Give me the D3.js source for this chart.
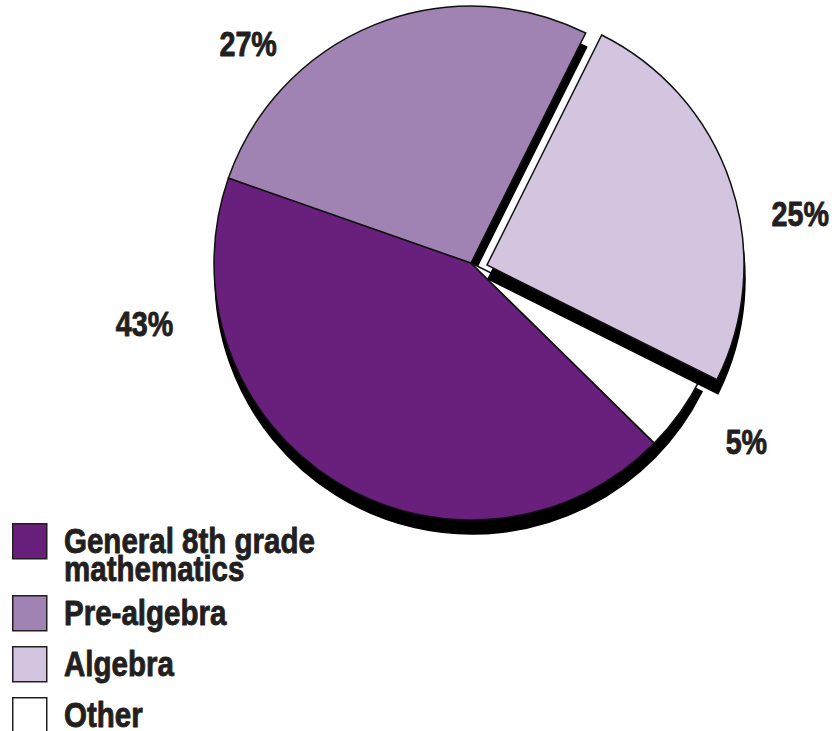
<!DOCTYPE html>
<html>
<head>
<meta charset="utf-8">
<script src="https://cdn.jsdelivr.net/npm/d3@7/dist/d3.min.js"></script>
<style>
  html, body { margin: 0; padding: 0; background: #fff; }
  svg { display: block; }
  text { font-family: "Liberation Sans", Arial, sans-serif; font-weight: bold; fill: #231f20; stroke: #231f20; stroke-width: 0.9; stroke-linejoin: round; }
</style>
</head>
<body>
<svg id="chart" width="832" height="731"></svg>
<script>
// Share of 8th-grade students by mathematics course
const categories = ["General 8th grade mathematics", "Pre-algebra", "Algebra", "Other"];
const legendLines = [["General 8th grade", "mathematics"], ["Pre-algebra"], ["Algebra"], ["Other"]];
const shares = [43, 27, 25, 5];
const valueLabels = ["43%", "27%", "25%", "5%"];
const sliceColors = ["#691f7c", "#a083b3", "#d3c5df", "#ffffff"];
const pulledOut = [false, false, true, false];

// Label placement around the pie: angle (degrees, clockwise from 12 o'clock) and distance from centre
const labelAngles = [259.6, 314.6, 81.4, 122.9];
const labelDistances = [332, 313, 333, 328];

const width = 832, height = 731;
const cx = 471, cy = 263, radius = 257;
const shadowOffset = [1, 14];
const pullOffset = [16, 2];
const narrow = 0.82;   // horizontal squeeze for a condensed type look
const deg = Math.PI / 180;

const svg = d3.select("#chart");

const pie = d3.pie()
  .sort(null)
  .value(d => d.value)
  .startAngle(134.5 * deg)
  .endAngle(134.5 * deg + 2 * Math.PI);

const data = categories.map((c, i) => ({
  name: c, value: shares[i], color: sliceColors[i], pulled: pulledOut[i], label: valueLabels[i]
}));
const arcs = pie(data);
const arc = d3.arc().innerRadius(0).outerRadius(radius);

const g = svg.append("g").attr("transform", `translate(${cx},${cy})`);

function drawShadow(a) {
  const off = a.data.pulled ? pullOffset : [0, 0];
  g.append("path")
    .attr("d", arc(a))
    .attr("transform", `translate(${off[0] + shadowOffset[0]},${off[1] + shadowOffset[1]})`)
    .attr("fill", "#000")
    .attr("stroke", "#000")
    .attr("stroke-width", 1.5);
  return off;
}

// Slices in place: shadows first, then faces
const inPlace = arcs.filter(a => !a.data.pulled);
const pulled = arcs.filter(a => a.data.pulled);

inPlace.forEach(drawShadow);
inPlace.forEach(a => {
  g.append("path")
    .attr("d", arc(a))
    .attr("fill", a.data.color)
    .attr("stroke", "#111")
    .attr("stroke-width", 1.5);
});

// Pulled-out slice drawn last with its own shadow
pulled.forEach(a => {
  const off = drawShadow(a);
  g.append("path")
    .attr("d", arc(a))
    .attr("transform", `translate(${off[0]},${off[1]})`)
    .attr("fill", a.data.color)
    .attr("stroke", "#111")
    .attr("stroke-width", 1.5);
});

// Percentage labels
arcs.forEach((a, i) => {
  const [x, y] = d3.pointRadial(labelAngles[i] * deg, labelDistances[i]);
  g.append("g")
    .attr("transform", `translate(${x},${y}) scale(${narrow},1)`)
    .append("text")
    .attr("dy", "0.36em")
    .attr("text-anchor", "middle")
    .attr("font-size", 35)
    .text(a.data.label);
});

// Legend
const legend = svg.append("g").attr("transform", "translate(12,523)");
let yCursor = 0;
legendLines.forEach((lines, i) => {
  const item = legend.append("g").attr("transform", `translate(0,${yCursor})`);
  item.append("rect")
    .attr("x", 0.75).attr("y", 0.75)
    .attr("width", 34).attr("height", 35)
    .attr("fill", sliceColors[i])
    .attr("stroke", "#231f20")
    .attr("stroke-width", 1.5);
  const t = item.append("g")
    .attr("transform", `translate(52,30) scale(${narrow},1)`)
    .append("text")
    .attr("font-size", 36);
  lines.forEach((ln, j) => {
    t.append("tspan").attr("x", 0).attr("dy", j === 0 ? 0 : 28).text(ln);
  });
  yCursor += 51 + 21 * (lines.length - 1);
});
</script>
</body>
</html>
